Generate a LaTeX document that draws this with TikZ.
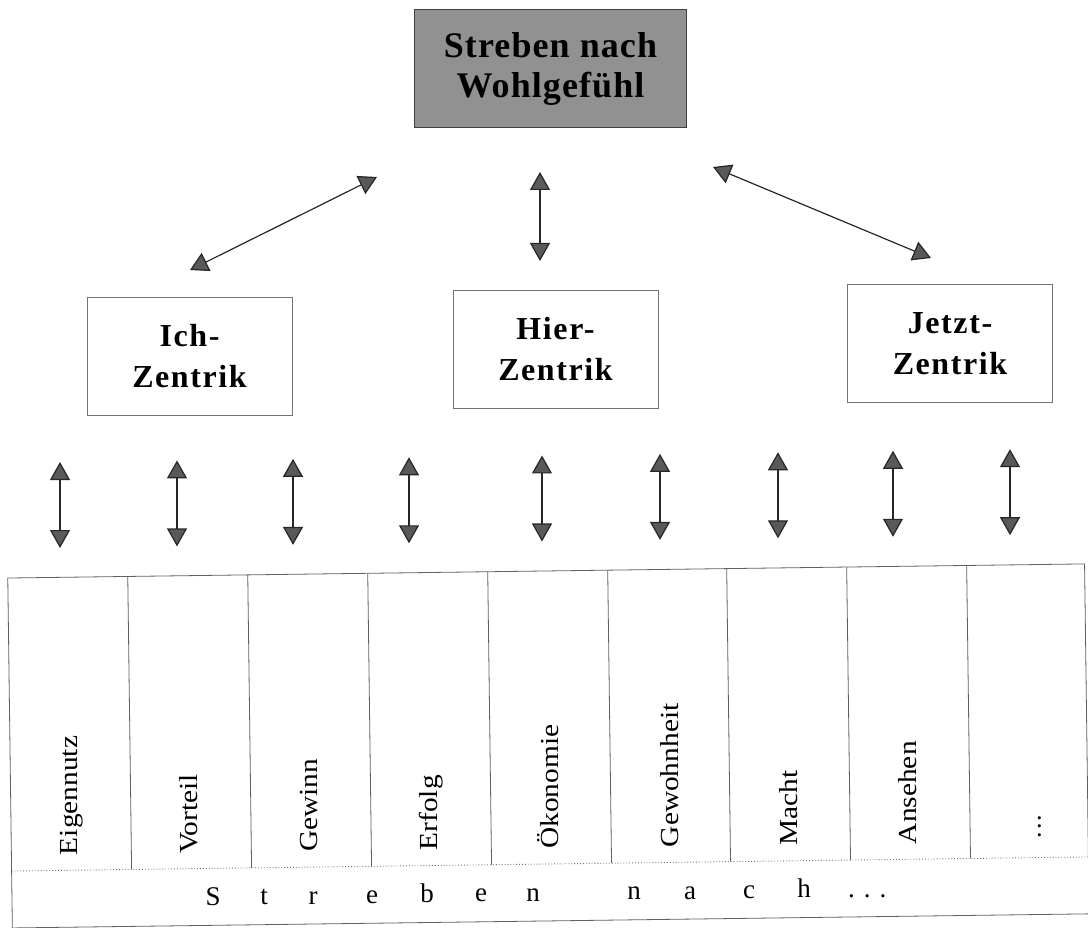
\documentclass[tikz,border=0pt]{standalone}
\usepackage{fontspec}
\setmainfont{Liberation Serif}
\newfontfamily\spacedfont[LetterSpace=5]{Liberation Serif}
\newfontfamily\topfont[LetterSpace=3]{Liberation Serif}
\usetikzlibrary{arrows.meta}
\tikzset{
  dblarrow/.style={draw=black!85, line width=1.2pt,
    {Triangle[length=18pt,width=20pt,fill=black!65]}-{Triangle[length=18pt,width=20pt,fill=black!65]}},
  topbox/.style={draw=black!75, line width=1pt, fill=black!43, minimum width=272pt,
    minimum height=118pt, align=center, inner sep=0pt,
    font=\topfont\bfseries\fontsize{36}{40}\selectfont},
  zbox/.style={draw=black!55, line width=0.8pt, minimum width=205pt, minimum height=118pt,
    align=center, inner sep=0pt, font=\spacedfont\bfseries\fontsize{32}{41}\selectfont},
  coltext/.style={rotate=90, anchor=west, inner sep=0pt, text height=19pt, text depth=6pt,
    font=\fontsize{26}{28}\selectfont},
  rowletter/.style={inner sep=0pt, anchor=base, font=\fontsize{27}{29}\selectfont},
  tableline/.style={draw=black!62, line width=0.8pt},
  sepline/.style={draw=black!55, line width=0.9pt, dotted}
}
\newcommand\stretchtxt[1]{\scalebox{1.13}[1]{#1}}
\begin{document}
\begin{tikzpicture}[x=1pt,y=-1pt]
\useasboundingbox (0,0) rectangle (1088,928);

% top box
\node[topbox] (top) at (550.5,69) {Streben nach\\Wohlgefühl};

% middle boxes
\node[zbox] (ich) at (189.5,356) {Ich-\\Zentrik};
\node[zbox] (hier) at (555.5,349) {Hier-\\Zentrik};
\node[zbox] (jetzt) at (950,343.5) {Jetzt-\\Zentrik};

% upper arrows
\coordinate (a1s) at (190,270); \coordinate (a1e) at (377,177);
\coordinate (a2s) at (540,261); \coordinate (a2e) at (540,172);
\coordinate (a3s) at (713,167); \coordinate (a3e) at (931,258);
\draw[dblarrow] (a1s) -- (a1e);
\draw[dblarrow] (a2s) -- (a2e);
\draw[dblarrow] (a3s) -- (a3e);

% lower arrows
\foreach \x [count=\i] in {60,177,293,409,542,660,778,893,1010} {
  \coordinate (vt\i) at (\x,{462-0.0135*(\x-60)});
  \coordinate (vb\i) at (\x,{548-0.0135*(\x-60)});
  \draw[dblarrow] (vt\i) -- (vb\i);
}

% table
\begin{scope}[rotate around={0.75:(548,746)}]
  \coordinate (tl) at (10,571);
  \coordinate (br) at (1087,921);
  \draw[tableline] (tl) rectangle (br);
  \foreach \x in {130,250,370,490,610,729,849,969} {
    \draw[tableline] (\x,571) -- (\x,864);
  }
  \draw[sepline] (10,864) -- (1087,864);
  \foreach \t/\x [count=\i] in {Eigennutz/70,Vorteil/190,Gewinn/310,Erfolg/430,Ökonomie/551,
      Gewohnheit/671,Macht/790,Ansehen/909} {
    \node[coltext] (c\i) at (\x,849) {\stretchtxt{\t}};
  }
  \node[coltext] (c9) at (1033,845) {.\hspace{2pt}.\hspace{2pt}.};
  \foreach \l/\x [count=\i] in {S/211,t/262,r/311,e/370,b/425,e/479,n/531,
      n/632,a/688,c/747,h/802} {
    \node[rowletter] (l\i) at (\x,901) {\l};
  }
  \node[rowletter, anchor=base west] (ldots) at (846,901) {.\hspace{9pt}.\hspace{9pt}.};
\end{scope}
\end{tikzpicture}
\end{document}
